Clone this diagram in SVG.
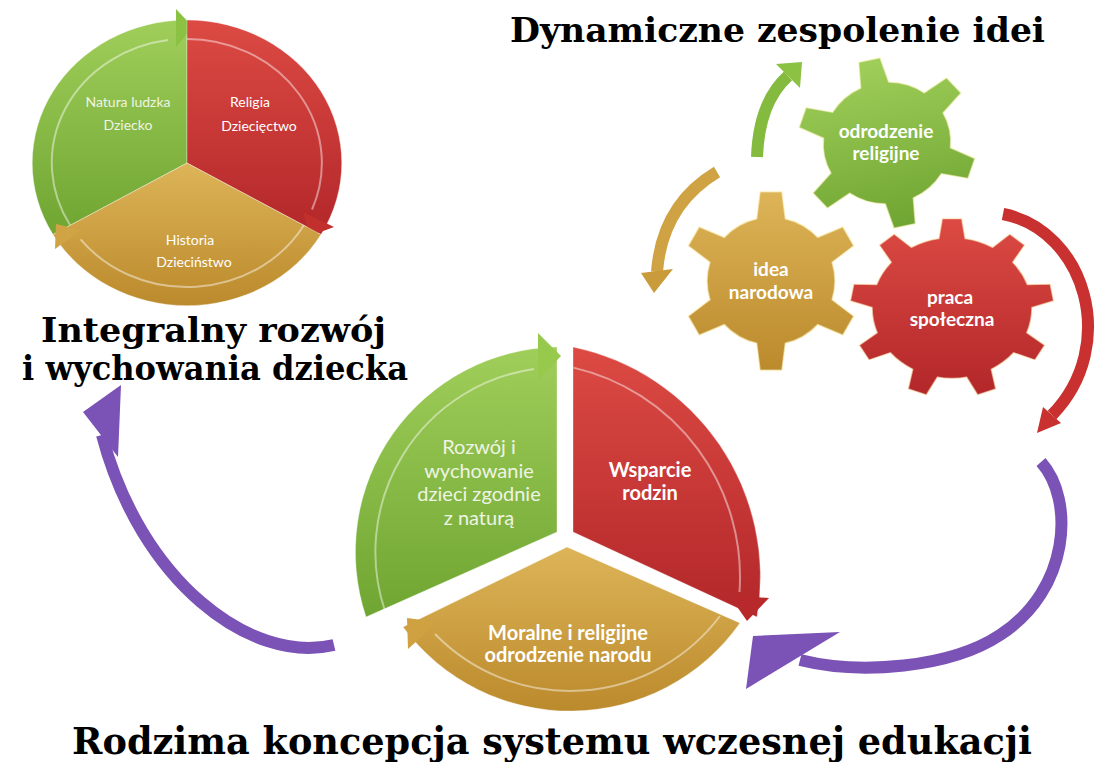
<svg xmlns="http://www.w3.org/2000/svg" width="1098" height="762" viewBox="0 0 1098 762">
<defs>
<linearGradient id="gGreen" x1="0" y1="0" x2="0" y2="1"><stop offset="0" stop-color="#a0ce5a"/><stop offset="1" stop-color="#6fa532"/></linearGradient>
<linearGradient id="gRed" x1="0" y1="0" x2="0" y2="1"><stop offset="0" stop-color="#dc4a43"/><stop offset="1" stop-color="#b3272a"/></linearGradient>
<linearGradient id="gGold" x1="0" y1="0" x2="0" y2="1"><stop offset="0" stop-color="#ddb458"/><stop offset="1" stop-color="#bb8a2c"/></linearGradient>
<linearGradient id="gPurple" x1="0" y1="0" x2="0" y2="1"><stop offset="0" stop-color="#8d62c8"/><stop offset="1" stop-color="#6c43a6"/></linearGradient>
<path id="gear6" d="M-14.4,-62.36 L-10.97,-89.33 L10.97,-89.33 L14.4,-62.36 A64,64 0 0 1 46.81,-43.65 L71.87,-54.16 L82.85,-35.17 L61.2,-18.71 A64,64 0 0 1 61.2,18.71 L82.85,35.17 L71.87,54.16 L46.81,43.65 A64,64 0 0 1 14.4,62.36 L10.97,89.33 L-10.97,89.33 L-14.4,62.36 A64,64 0 0 1 -46.81,43.65 L-71.87,54.16 L-82.85,35.17 L-61.2,18.71 A64,64 0 0 1 -61.2,-18.71 L-82.85,-35.17 L-71.87,-54.16 L-46.81,-43.65 A64,64 0 0 1 -14.4,-62.36 Z"/>
<path id="gear9" d="M-13.2,-78.9 L-9.78,-101.53 L9.78,-101.53 L13.2,-78.9 A80,80 0 0 1 40.6,-68.93 L57.77,-84.06 L72.75,-71.49 L60.83,-51.95 A80,80 0 0 1 75.41,-26.7 L98.29,-27.25 L101.69,-8 L80,-0.7 A80,80 0 0 1 74.94,28.02 L92.82,42.3 L83.04,59.23 L61.73,50.89 A80,80 0 0 1 39.39,69.63 L43.91,92.07 L25.54,98.75 L14.58,78.66 A80,80 0 0 1 -14.58,78.66 L-25.54,98.75 L-43.91,92.07 L-39.39,69.63 A80,80 0 0 1 -61.73,50.89 L-83.04,59.23 L-92.82,42.3 L-74.94,28.02 A80,80 0 0 1 -80,-0.7 L-101.69,-8 L-98.29,-27.25 L-75.41,-26.7 A80,80 0 0 1 -60.83,-51.95 L-72.75,-71.49 L-57.77,-84.06 L-40.6,-68.93 A80,80 0 0 1 -13.2,-78.9 Z"/>
</defs>
<style>
.title{font-family:"DejaVu Serif","Liberation Serif",serif;font-weight:bold;fill:#000}
.lbl{font-family:Lato,"Open Sans","Liberation Sans",sans-serif;fill:#fff;text-anchor:middle}
.soft{fill:#eef4e4}
.b{font-weight:bold}
.seg{stroke:#ffffff;stroke-opacity:.35;stroke-width:1}
.rim{fill:none;stroke:#ffffff;stroke-opacity:.45;stroke-width:2}
.gear{stroke:#fff6cc;stroke-opacity:.6;stroke-width:1.6}
.arc{fill:none;stroke-width:12}
</style>

<g id="pie1-green">
<path class="seg" fill="url(#gGreen)" d="M187,163 L53,234.5 A155,143 0 0 1 187,20 Z"/>
<path class="rim" d="M70,225 A135,124 0 0 1 168,40"/>
<polygon fill="#8cc243" points="176,9 176,47 193,27"/>
<text class="lbl soft" font-size="14" x="128" y="107">Natura ludzka</text>
<text class="lbl soft" font-size="14" x="128" y="130">Dziecko</text>
</g>
<g id="pie1-red">
<path class="seg" fill="url(#gRed)" d="M187,163 L187,20 A155,143 0 0 1 321,234.5 Z"/>
<path class="rim" d="M187,39 A135,124 0 0 1 312,209.5"/>
<polygon fill="#c2302e" points="334,227 303,212 310,236"/>
<text class="lbl" font-size="14" x="250" y="107">Religia</text>
<text class="lbl" font-size="14" x="259" y="131">Dziecięctwo</text>
</g>
<g id="pie1-gold">
<path class="seg" fill="url(#gGold)" d="M187,163 L321,234.5 A155,143 0 0 1 53,234.5 Z"/>
<path class="rim" d="M304,225 A135,124 0 0 1 80.6,239.4"/>
<polygon fill="#d0a445" points="55,249 81,230 56,224"/>
<text class="lbl" font-size="14" x="190" y="245">Historia</text>
<text class="lbl" font-size="14" x="194" y="267">Dzieciństwo</text>
</g>

<g id="pie2-green">
<path class="seg" fill="url(#gGreen)" d="M557,532 L366,617 A205,205 0 0 1 557,347 Z"/>
<path class="rim" d="M385,611 A185,185 0 0 1 534,369"/>
<polygon fill="#96c94c" points="538,333 538,380 561,356"/>
<text class="lbl soft" font-size="20" x="479" y="454">Rozwój i</text>
<text class="lbl soft" font-size="20" x="479" y="478">wychowanie</text>
<text class="lbl soft" font-size="20" x="479" y="501">dzieci zgodnie</text>
<text class="lbl soft" font-size="20" x="479" y="525">z naturą</text>
</g>
<g id="pie2-red">
<path class="seg" fill="url(#gRed)" d="M573,532 L573,347 A235,235 0 0 1 757,617 Z"/>
<path class="rim" d="M573.4,367.6 A215,215 0 0 1 739.5,592"/>
<polygon fill="#b8292b" points="769,598 729,595 747,621"/>
<text class="lbl b" font-size="20" x="650" y="477">Wsparcie</text>
<text class="lbl b" font-size="20" x="650" y="500">rodzin</text>
</g>
<g id="pie2-gold">
<path class="seg" fill="url(#gGold)" d="M567,547 L740,623 A208,208 0 0 1 403,627 Z"/>
<path class="rim" d="M720,616 A188,188 0 0 1 435,634"/>
<polygon fill="#cfa141" points="408,649 438,622 407,618"/>
<text class="lbl b" font-size="20" x="568" y="640">Moralne i religijne</text>
<text class="lbl b" font-size="20" x="568" y="662">odrodzenie narodu</text>
</g>

<g id="gear-green">
<use href="#gear6" class="gear" fill="url(#gGreen)" transform="translate(887,143) rotate(-12) scale(1,0.95)"/>
<text class="lbl b" font-size="19" x="886" y="138">odrodzenie</text>
<text class="lbl b" font-size="19" x="886" y="160">religijne</text>
</g>
<g id="gear-gold">
<use href="#gear6" class="gear" fill="url(#gGold)" transform="translate(771,281)"/>
<text class="lbl b" font-size="19" x="771" y="276">idea</text>
<text class="lbl b" font-size="19" x="771" y="299">narodowa</text>
</g>
<g id="gear-red">
<use href="#gear9" class="gear" fill="url(#gRed)" transform="translate(952,308) scale(1,0.88)"/>
<text class="lbl b" font-size="19" x="950" y="304">praca</text>
<text class="lbl b" font-size="19" x="952" y="326">społeczna</text>
</g>

<g id="connectors">
<path class="arc" stroke="#84bb3e" stroke-width="13" d="M757,157 Q759,102 788,76"/>
<polygon fill="#8cc243" points="776,64 800,88 802,62"/>
<path class="arc" stroke="#cfa243" stroke-width="13" d="M717,172 Q662,205 657,272"/>
<polygon fill="#c99b3a" points="641,273 673,269 654,293"/>
<path class="arc" stroke="#c8312f" stroke-width="11" d="M1003,214 C1085,230 1120,345 1052,415"/>
<polygon fill="#c8312f" points="1061,423 1043,407 1037,433"/>
<path class="arc" stroke="#7b52b5" d="M1041,462 C1075,500 1070,590 1000,635 C950,668 860,675 800,660"/>
<polygon fill="#7b52b5" points="840,632 753,636 746,689"/>
<path class="arc" stroke="#7b52b5" d="M334,645 C250,665 140,580 102,435"/>
<polygon fill="#7b52b5" points="83,412 118,457 121,385"/>
</g>

<g id="titles">
<text class="title" font-size="33" x="510" y="42" textLength="535" lengthAdjust="spacingAndGlyphs">Dynamiczne zespolenie idei</text>
<text class="title" font-size="33" x="41" y="342" textLength="345" lengthAdjust="spacingAndGlyphs">Integralny rozwój</text>
<text class="title" font-size="33" x="22" y="380" textLength="386" lengthAdjust="spacingAndGlyphs">i wychowania dziecka</text>
<text class="title" font-size="38" x="72" y="754" textLength="960" lengthAdjust="spacingAndGlyphs">Rodzima koncepcja systemu wczesnej edukacji</text>
</g>
</svg>
